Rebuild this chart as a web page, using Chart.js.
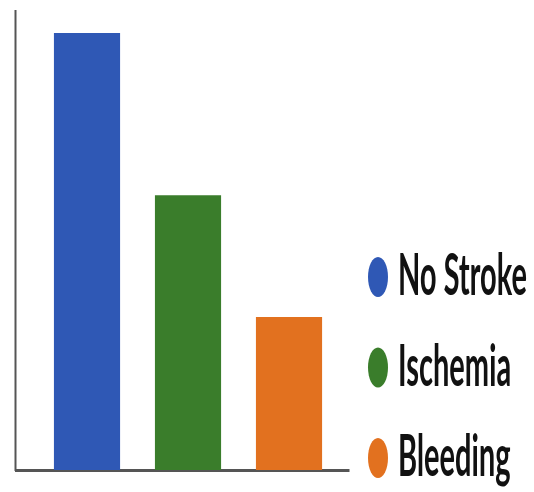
<!DOCTYPE html>
<html>
<head>
<meta charset="utf-8">
<title>Stroke outcomes</title>
<script src="https://cdn.jsdelivr.net/npm/chart.js@4/dist/chart.umd.min.js"></script>
<style>
  html, body { margin: 0; padding: 0; background: #ffffff; overflow: hidden; }
  #wrap {
    width: 1068px; height: 492px;
    transform: scaleX(0.5);
    transform-origin: 0 0;
  }
  canvas { display: block; }
</style>
</head>
<body>
<div id="wrap"><canvas id="chart" width="1068" height="492"></canvas></div>
<script>
// Outcome groups and their bar heights
const categories = ['No Stroke', 'Ischemia', 'Bleeding'];
const positions = [0, 1, 2];
const values = [95.4, 60, 33.4];

const barColors = ['#2f58b5', '#3a7d2b', '#e2711f'];
const axisColor = '#555555';

// Legend drawn as filled dots followed by the group name
const dotLegend = {
  id: 'dotLegend',
  afterDraw(chart) {
    const { ctx, chartArea } = chart;
    ctx.save();
    ctx.font = 'bold 58px Lato, "Open Sans", sans-serif';
    ctx.textBaseline = 'alphabetic';
    ctx.textAlign = 'left';
    categories.forEach((name, i) => {
      const base = 295 + i * 90.5;
      ctx.fillStyle = barColors[i];
      ctx.beginPath();
      ctx.arc(chartArea.right + 58, base - 18, 20, 0, Math.PI * 2);
      ctx.fill();
      ctx.fillStyle = '#111111';
      ctx.fillText(name, chartArea.right + 98, base);
    });
    ctx.restore();
  }
};

new Chart(document.getElementById('chart'), {
  type: 'bar',
  data: {
    datasets: [{
      label: 'Patients',
      data: positions.map((x, i) => ({ x: x, y: values[i] })),
      backgroundColor: barColors,
      borderWidth: 0,
      categoryPercentage: 1,
      barPercentage: 0.655
    }]
  },
  options: {
    responsive: false,
    devicePixelRatio: 1,
    animation: false,
    layout: { padding: { left: 31, right: 370, top: 12, bottom: 22 } },
    plugins: {
      legend: { display: false },
      tooltip: { enabled: false },
      title: { display: false }
    },
    scales: {
      x: {
        type: 'linear',
        offset: false,
        min: -0.708,
        max: 2.594,
        // one tick per group so bar widths follow the group spacing
        afterBuildTicks: (scale) => { scale.ticks = positions.map(v => ({ value: v })); },
        ticks: { display: false },
        grid: { display: false, drawTicks: false, offset: false },
        border: { display: true, color: axisColor, width: 3 }
      },
      y: {
        min: 0,
        max: 100,
        ticks: { display: false },
        grid: { display: false, drawTicks: false },
        border: { display: true, color: axisColor, width: 4 }
      }
    }
  },
  plugins: [dotLegend]
});
</script>
</body>
</html>
